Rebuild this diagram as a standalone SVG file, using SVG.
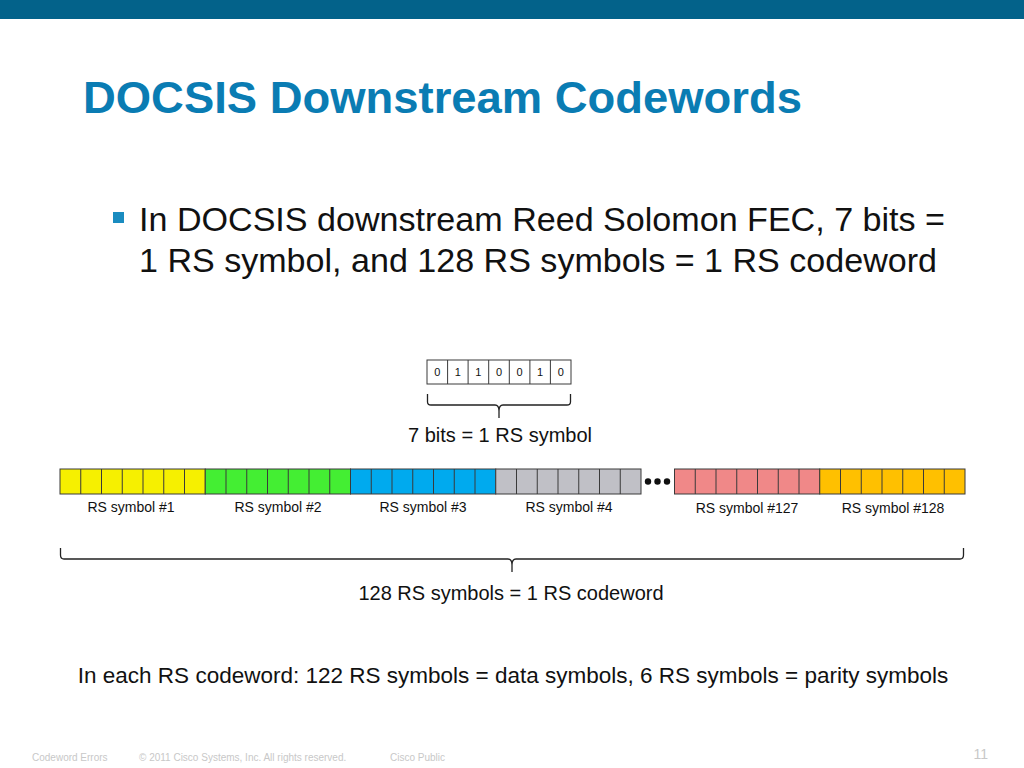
<svg xmlns="http://www.w3.org/2000/svg" width="1024" height="768" viewBox="0 0 1024 768">
<style>
text{font-family:"Liberation Sans",Arial,sans-serif}
.c{stroke:#3a3a3a;stroke-width:1}
.lbl{font-size:14px;fill:#111;text-anchor:middle}
.bit{font-size:11px;fill:#111;text-anchor:middle}
.br{fill:none;stroke:#222;stroke-width:1.3}
.ft{font-size:10px;fill:#c8c8c8}
</style>
<rect width="1024" height="768" fill="#fff"/>
<rect x="0" y="0" width="1024" height="19" fill="#03628a"/>
<text x="83" y="113" font-size="45" font-weight="bold" fill="#0a7cb3" textLength="719" lengthAdjust="spacingAndGlyphs">DOCSIS Downstream Codewords</text>
<rect x="113" y="212" width="11" height="11" fill="#1a8cc0"/>
<text x="139" y="231" font-size="33" fill="#111" textLength="806" lengthAdjust="spacingAndGlyphs">In DOCSIS downstream Reed Solomon FEC, 7 bits =</text>
<text x="139" y="272" font-size="33" fill="#111" textLength="798" lengthAdjust="spacingAndGlyphs">1 RS symbol, and 128 RS symbols = 1 RS codeword</text>

<g id="bits">
<rect x="427" y="360" width="144" height="24" fill="#fff" class="c"/>
<g class="c">
<line x1="447.6" y1="360" x2="447.6" y2="384"/><line x1="468.1" y1="360" x2="468.1" y2="384"/><line x1="488.7" y1="360" x2="488.7" y2="384"/><line x1="509.3" y1="360" x2="509.3" y2="384"/><line x1="529.9" y1="360" x2="529.9" y2="384"/><line x1="550.4" y1="360" x2="550.4" y2="384"/>
</g>
<text class="bit" x="437.3" y="376">0</text><text class="bit" x="457.9" y="376">1</text><text class="bit" x="478.4" y="376">1</text><text class="bit" x="499" y="376">0</text><text class="bit" x="519.6" y="376">0</text><text class="bit" x="540.1" y="376">1</text><text class="bit" x="560.7" y="376">0</text>
</g>
<g id="connectors">
<path class="br" d="M427.5,394 V402 Q427.5,405 431,405 H495 Q499,405 499,411 V418 M499,411 Q499,405 503,405 H567 Q570.5,405 570.5,402 V394"/>
<path class="br" d="M60.5,548 V555 Q60.5,559 64,559 H508 Q512,559 512,565 V572 M512,565 Q512,559 516,559 H960 Q963.5,559 963.5,555 V548"/>
</g>
<text x="500" y="442" font-size="20" fill="#111" text-anchor="middle">7 bits = 1 RS symbol</text>

<defs>
<g id="cells">
<rect x="0" y="0" width="145.25" height="25"/>
<line x1="20.75" y1="0" x2="20.75" y2="25"/><line x1="41.5" y1="0" x2="41.5" y2="25"/><line x1="62.25" y1="0" x2="62.25" y2="25"/><line x1="83" y1="0" x2="83" y2="25"/><line x1="103.75" y1="0" x2="103.75" y2="25"/><line x1="124.5" y1="0" x2="124.5" y2="25"/>
</g>
</defs>
<g id="sym1"><use href="#cells" x="60" y="469" fill="#f6f000" class="c"/><text class="lbl" x="131" y="512">RS symbol #1</text></g>
<g id="sym2"><use href="#cells" x="205.25" y="469" fill="#44ee33" class="c"/><text class="lbl" x="278" y="512">RS symbol #2</text></g>
<g id="sym3"><use href="#cells" x="350.5" y="469" fill="#00aaee" class="c"/><text class="lbl" x="423" y="512">RS symbol #3</text></g>
<g id="sym4"><use href="#cells" x="495.75" y="469" fill="#c0c0c6" class="c"/><text class="lbl" x="569" y="512">RS symbol #4</text></g>
<g id="dots" fill="#111"><circle cx="648" cy="481.5" r="3.2"/><circle cx="657.5" cy="481.5" r="3.2"/><circle cx="667" cy="481.5" r="3.2"/></g>
<g id="sym127"><use href="#cells" x="674.5" y="469" fill="#f08888" class="c"/><text class="lbl" x="747" y="513">RS symbol #127</text></g>
<g id="sym128"><use href="#cells" x="819.75" y="469" fill="#ffc000" class="c"/><text class="lbl" x="893" y="513">RS symbol #128</text></g>

<text x="511" y="600" font-size="20" fill="#111" text-anchor="middle">128 RS symbols = 1 RS codeword</text>
<text x="513" y="683" font-size="22.5" fill="#111" text-anchor="middle">In each RS codeword: 122 RS symbols = data symbols, 6 RS symbols = parity symbols</text>

<text class="ft" x="32" y="761">Codeword Errors</text>
<text class="ft" x="139" y="761">© 2011 Cisco Systems, Inc. All rights reserved.</text>
<text class="ft" x="390" y="761">Cisco Public</text>
<text x="988" y="759" font-size="14" fill="#c8c8c8" text-anchor="end">11</text>
</svg>
